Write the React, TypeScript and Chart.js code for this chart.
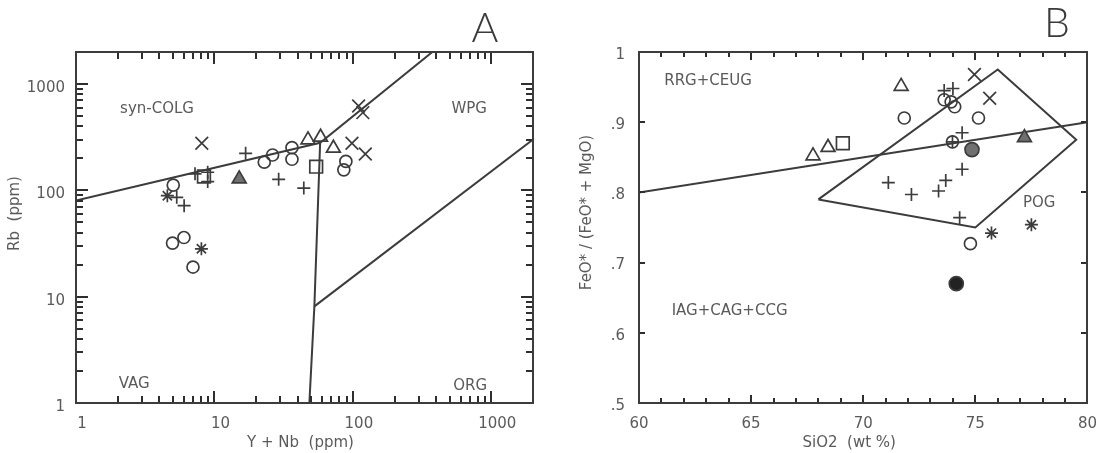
import React, { useEffect, useRef } from 'react';
import { Chart, registerables } from 'chart.js';

Chart.register(...registerables);

const FONT = '"DejaVu Sans", sans-serif';
const TEXT = '#5a5a5a';
const INK = '#3c3c3c';
const TICK = '#2e2e2e';
const GRAY_FILL = '#707070';

// ---------------- Panel A : Rb vs Y + Nb (log-log) ----------------
const aTicks = [1, 10, 100, 1000];

const aCircleX = [5.04, 4.98, 6.02, 7.0, 22.9, 26.3, 36.3, 36.3, 89, 86];
const aCircleY = [112, 31.9, 36.0, 19.0, 184, 215, 252, 196, 187, 156];
const aOpenTriX = [47.4, 58.4, 72.3];
const aOpenTriY = [298, 316, 249];
const aFillTriX = [15.1];
const aFillTriY = [128];
const aSquareX = [54.3, 8.4];
const aSquareY = [167, 135];
const aXMarkX = [8.1, 110, 118, 98.5, 123];
const aXMarkY = [277, 622, 538, 277, 220];
const aPlusX = [16.8, 29.1, 44.2, 7.24, 8.94, 8.94, 5.34, 6.04];
const aPlusY = [223, 127, 105, 143, 148, 121, 86, 71.8];
const aStarX = [4.57, 8.05];
const aStarY = [89, 28.2];

const aLine1X = [1, 58, 375];
const aLine1Y = [80, 280, 2000];
const aLine2X = [58, 52.7, 48.5];
const aLine2Y = [280, 8.1, 1];
const aLine3X = [52.7, 2000];
const aLine3Y = [8.1, 300];

const aRegionText = ['syn-COLG', 'WPG', 'VAG', 'ORG'];
const aRegionX = [3.85, 692, 2.63, 703];
const aRegionY = [585, 585, 1.5, 1.45];

// ---------------- Panel B : FeO*/(FeO*+MgO) vs SiO2 ----------------
const bXTicks = [60, 65, 70, 75, 80];
const bYTicks = [0.5, 0.6, 0.7, 0.8, 0.9, 1.0];
const bYTickLabels = ['.5', '.6', '.7', '.8', '.9', '1'];

const bCircleX = [71.83, 73.61, 73.92, 74.08, 75.14, 74.78, 73.98];
const bCircleY = [0.906, 0.932, 0.929, 0.922, 0.906, 0.727, 0.872];
const bOpenTriX = [71.69, 67.76, 68.43];
const bOpenTriY = [0.951, 0.852, 0.864];
const bSquareX = [69.09];
const bSquareY = [0.87];
const bFillTriX = [77.19];
const bFillTriY = [0.878];
const bGrayCircleX = [74.85];
const bGrayCircleY = [0.861];
const bBlackCircleX = [74.15];
const bBlackCircleY = [0.67];
const bXMarkX = [74.96, 75.64];
const bXMarkY = [0.968, 0.934];
const bPlusX = [73.61, 74.0, 73.98, 74.41, 71.12, 72.15, 73.36, 73.68, 74.41, 74.3];
const bPlusY = [0.945, 0.948, 0.872, 0.885, 0.814, 0.797, 0.802, 0.817, 0.833, 0.764];
const bStarX = [75.72, 77.5];
const bStarY = [0.742, 0.754];

const bLineX = [60, 80];
const bLineY = [0.8, 0.9];
const bPogX = [68, 76, 79.5, 75, 68];
const bPogY = [0.79, 0.975, 0.875, 0.75, 0.79];

const bRegionText = ['RRG+CEUG', 'IAG+CAG+CCG', 'POG'];
const bRegionX = [63.08, 64.04, 77.85];
const bRegionY = [0.959, 0.631, 0.785];

// ---------------- helpers ----------------
const pts = (xs: number[], ys: number[]) => xs.map((x, i) => ({ x, y: ys[i] }));

function marker(label: string, xs: number[], ys: number[], style: string, radius: number, fill?: string) {
  return {
    label,
    data: pts(xs, ys),
    showLine: false,
    pointStyle: style,
    pointRadius: radius,
    pointHoverRadius: radius,
    pointBorderWidth: 1.7,
    pointBorderColor: INK,
    pointBackgroundColor: fill ?? 'rgba(0,0,0,0)',
    borderColor: INK,
    backgroundColor: fill ?? 'rgba(0,0,0,0)',
    order: 1,
  };
}

function boundary(xs: number[], ys: number[]) {
  return {
    label: 'boundary',
    data: pts(xs, ys),
    showLine: true,
    borderColor: INK,
    borderWidth: 2,
    pointRadius: 0,
    pointHoverRadius: 0,
    fill: false,
    tension: 0,
    order: 10,
  };
}

function logMinors(max: number) {
  const out: number[] = [];
  for (const d of [1, 10, 100, 1000]) {
    for (let m = 2; m <= 9; m++) {
      const v = d * m;
      if (v < max) out.push(v);
    }
  }
  return out;
}

interface TickCfg {
  xMajor: number[];
  xMinor: number[];
  yMajor: number[];
  yMinor: number[];
  xMajorLen: number;
  yMajorLen: number;
  minorLen: number;
}

function ticksPlugin(id: string, t: TickCfg) {
  return {
    id: 'inticks' + id,
    afterDraw(chart: any) {
      const { ctx, chartArea } = chart;
      const left = Math.round(chartArea.left);
      const right = Math.round(chartArea.right);
      const top = Math.round(chartArea.top);
      const bottom = Math.round(chartArea.bottom);
      const xs = chart.scales.x;
      const ys = chart.scales.y;
      const W = 2;
      ctx.save();
      ctx.fillStyle = TICK;
      const vTick = (v: number, len: number) => {
        const p = Math.round(xs.getPixelForValue(v)) - 1;
        ctx.fillRect(p, bottom - len, W, len);
        ctx.fillRect(p, top, W, len);
      };
      const hTick = (v: number, len: number) => {
        const p = Math.round(ys.getPixelForValue(v)) - 1;
        ctx.fillRect(left, p, len, W);
        ctx.fillRect(right - len, p, len, W);
      };
      t.xMinor.forEach((v) => vTick(v, t.minorLen));
      t.xMajor.forEach((v) => vTick(v, t.xMajorLen));
      t.yMinor.forEach((v) => hTick(v, t.minorLen));
      t.yMajor.forEach((v) => hTick(v, t.yMajorLen));
      // frame
      ctx.fillStyle = INK;
      ctx.fillRect(left - 1, top - 1, right - left + 2, 2);
      ctx.fillRect(left - 1, bottom - 1, right - left + 2, 2);
      ctx.fillRect(left - 1, top - 1, 2, bottom - top + 2);
      ctx.fillRect(right - 1, top - 1, 2, bottom - top + 2);
      ctx.restore();
    },
  };
}

interface TextCfg {
  regions: { text: string; x: number; y: number }[];
  xTitle: string;
  yTitle: string;
  xTitleShift: number;
  yTitleX: number;
  yTitleShift: number;
  letter: string;
  letterX: number;
  letterY: number;
}

function textPlugin(id: string, cfg: TextCfg) {
  return {
    id: 'texts' + id,
    afterDraw(chart: any) {
      const { ctx, chartArea } = chart;
      const { left, right, top, bottom } = chartArea;
      const xs = chart.scales.x;
      const ys = chart.scales.y;
      ctx.save();
      ctx.fillStyle = TEXT;
      ctx.font = `15px ${FONT}`;
      ctx.textAlign = 'center';
      ctx.textBaseline = 'middle';
      cfg.regions.forEach((r) => {
        ctx.fillText(r.text, xs.getPixelForValue(r.x), ys.getPixelForValue(r.y));
      });
      ctx.fillText(cfg.xTitle, (left + right) / 2 + cfg.xTitleShift, bottom + 40);
      ctx.save();
      ctx.translate(cfg.yTitleX, (top + bottom) / 2 + cfg.yTitleShift);
      ctx.rotate(-Math.PI / 2);
      ctx.fillText(cfg.yTitle, 0, 0);
      ctx.restore();
      ctx.fillStyle = '#3a3a3a';
      ctx.font = `300 41px Lato, ${FONT}`;
      ctx.textBaseline = 'alphabetic';
      ctx.fillText(cfg.letter, cfg.letterX, cfg.letterY);
      ctx.restore();
    },
  };
}

const tickFont = { family: FONT, size: 15 };

function makeChartA(canvas: HTMLCanvasElement) {
  const datasets: any[] = [
    marker('circle', aCircleX, aCircleY, 'circle', 6),
    marker('open triangle', aOpenTriX, aOpenTriY, 'triangle', 8),
    marker('filled triangle', aFillTriX, aFillTriY, 'triangle', 8, GRAY_FILL),
    marker('square', aSquareX, aSquareY, 'rect', 9),
    marker('x', aXMarkX, aXMarkY, 'crossRot', 9),
    marker('plus', aPlusX, aPlusY, 'cross', 6.5),
    marker('star', aStarX, aStarY, 'star', 6.5),
    boundary(aLine1X, aLine1Y),
    boundary(aLine2X, aLine2Y),
    boundary(aLine3X, aLine3Y),
  ];
  return new Chart(canvas, {
    type: 'scatter',
    data: { datasets },
    options: {
      responsive: false,
      animation: false,
      devicePixelRatio: 1,
      layout: { padding: { left: 0, top: 52, right: 22, bottom: 0 } },
      plugins: { legend: { display: false }, tooltip: { enabled: false } },
      scales: {
        x: {
          type: 'logarithmic',
          min: 1,
          max: 2000,
          grid: { display: false, drawTicks: false },
          border: { display: false },
          afterBuildTicks: (s: any) => {
            s.ticks = aTicks.map((v) => ({ value: v }));
          },
          afterFit: (s: any) => {
            s.height = 50;
          },
          ticks: {
            padding: 12,
            labelOffset: 6,
            color: TEXT,
            font: tickFont,
            maxRotation: 0,
            autoSkip: false,
            callback: (v: any) => String(v),
          },
        },
        y: {
          type: 'logarithmic',
          min: 1,
          max: 2000,
          grid: { display: false, drawTicks: false },
          border: { display: false },
          afterBuildTicks: (s: any) => {
            s.ticks = aTicks.map((v) => ({ value: v }));
          },
          afterFit: (s: any) => {
            s.width = 76;
          },
          ticks: {
            padding: 11,
            labelOffset: 4,
            color: TEXT,
            font: tickFont,
            autoSkip: false,
            callback: (v: any) => String(v),
          },
        },
      },
    } as any,
    plugins: [
      ticksPlugin('A', {
        xMajor: aTicks,
        xMinor: logMinors(2000),
        yMajor: aTicks,
        yMinor: logMinors(2000),
        xMajorLen: 12,
        yMajorLen: 12,
        minorLen: 7,
      }),
      textPlugin('A', {
        regions: aRegionText.map((t, i) => ({ text: t, x: aRegionX[i], y: aRegionY[i] })),
        xTitle: 'Y + Nb  (ppm)',
        yTitle: 'Rb  (ppm)',
        xTitleShift: -4,
        yTitleX: 15,
        yTitleShift: -14,
        letter: 'A',
        letterX: 485,
        letterY: 42,
      }),
    ],
  });
}

function makeChartB(canvas: HTMLCanvasElement) {
  const datasets: any[] = [
    marker('circle', bCircleX, bCircleY, 'circle', 6),
    marker('gray circle', bGrayCircleX, bGrayCircleY, 'circle', 7, GRAY_FILL),
    marker('black circle', bBlackCircleX, bBlackCircleY, 'circle', 7, '#222222'),
    marker('open triangle', bOpenTriX, bOpenTriY, 'triangle', 8),
    marker('filled triangle', bFillTriX, bFillTriY, 'triangle', 8, GRAY_FILL),
    marker('square', bSquareX, bSquareY, 'rect', 9),
    marker('x', bXMarkX, bXMarkY, 'crossRot', 9),
    marker('plus', bPlusX, bPlusY, 'cross', 6.5),
    marker('star', bStarX, bStarY, 'star', 6.5),
    boundary(bLineX, bLineY),
    boundary(bPogX, bPogY),
  ];
  const xMinor: number[] = [];
  for (let v = 61; v < 80; v++) if (v % 5 !== 0) xMinor.push(v);
  return new Chart(canvas, {
    type: 'scatter',
    data: { datasets },
    options: {
      responsive: false,
      animation: false,
      devicePixelRatio: 1,
      layout: { padding: { left: 19, top: 52, right: 15, bottom: 0 } },
      plugins: { legend: { display: false }, tooltip: { enabled: false } },
      scales: {
        x: {
          type: 'linear',
          min: 60,
          max: 80,
          grid: { display: false, drawTicks: false },
          border: { display: false },
          afterBuildTicks: (s: any) => {
            s.ticks = bXTicks.map((v) => ({ value: v }));
          },
          afterFit: (s: any) => {
            s.height = 50;
          },
          ticks: {
            padding: 12,
            color: TEXT,
            font: tickFont,
            maxRotation: 0,
            autoSkip: false,
            callback: (v: any) => String(v),
          },
        },
        y: {
          type: 'linear',
          min: 0.5,
          max: 1,
          grid: { display: false, drawTicks: false },
          border: { display: false },
          afterBuildTicks: (s: any) => {
            s.ticks = bYTicks.map((v) => ({ value: v }));
          },
          afterFit: (s: any) => {
            s.width = 65;
          },
          ticks: {
            padding: 14,
            labelOffset: 3,
            color: TEXT,
            font: tickFont,
            autoSkip: false,
            callback: (_v: any, i: number) => bYTickLabels[i],
          },
        },
      },
    } as any,
    plugins: [
      ticksPlugin('B', {
        xMajor: bXTicks,
        xMinor,
        yMajor: bYTicks,
        yMinor: [],
        xMajorLen: 8,
        yMajorLen: 6,
        minorLen: 5,
      }),
      textPlugin('B', {
        regions: bRegionText.map((t, i) => ({ text: t, x: bRegionX[i], y: bRegionY[i] })),
        xTitle: 'SiO2  (wt %)',
        yTitle: 'FeO* / (FeO* + MgO)',
        xTitleShift: -14,
        yTitleX: 32,
        yTitleShift: -15,
        letter: 'B',
        letterX: 502,
        letterY: 37,
      }),
    ],
  });
}

export default function App() {
  const refA = useRef<HTMLCanvasElement | null>(null);
  const refB = useRef<HTMLCanvasElement | null>(null);

  useEffect(() => {
    const ca = refA.current ? makeChartA(refA.current) : null;
    const cb = refB.current ? makeChartB(refB.current) : null;
    return () => {
      ca?.destroy();
      cb?.destroy();
    };
  }, []);

  return (
    <div style={{ position: 'absolute', left: 0, top: 0, width: 1109, height: 453, background: '#ffffff' }}>
      <canvas
        ref={refA}
        width={555}
        height={453}
        style={{ position: 'absolute', left: 0, top: 0, width: 555, height: 453 }}
      />
      <canvas
        ref={refB}
        width={554}
        height={453}
        style={{ position: 'absolute', left: 555, top: 0, width: 554, height: 453 }}
      />
    </div>
  );
}
